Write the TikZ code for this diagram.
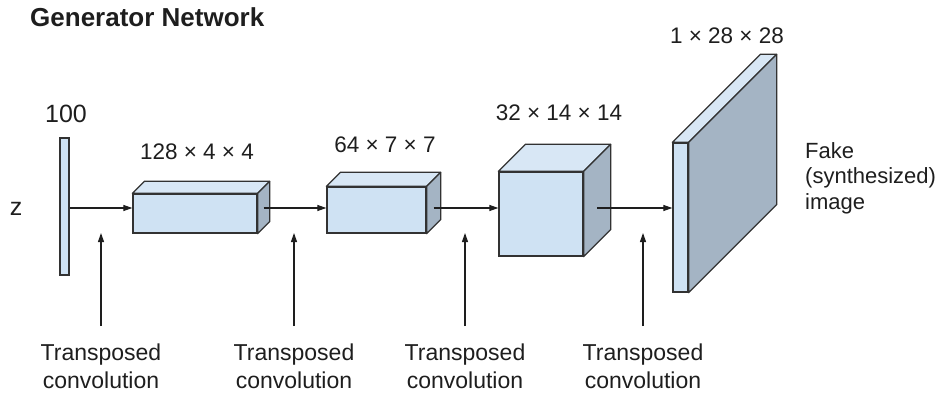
\documentclass[tikz,border=0pt]{standalone}
\usepackage{fontspec}
\setmainfont{Liberation Sans}
\usetikzlibrary{arrows.meta,positioning,calc}
\definecolor{facefront}{RGB}{207,226,243}
\definecolor{facetop}{RGB}{216,231,245}
\definecolor{faceside}{RGB}{164,180,196}
\definecolor{edgegray}{RGB}{50,50,50}
\definecolor{textgray}{RGB}{30,30,30}

\begin{document}
\begin{tikzpicture}[x=1pt, y=-1pt]
\tikzstyle{front} = [rectangle, draw=edgegray, fill=facefront, line width=1.3pt, inner sep=0pt]
\tikzstyle{topface} = [draw=edgegray, fill=facetop, line width=1.3pt, line join=round]
\tikzstyle{sideface} = [draw=edgegray, fill=faceside, line width=1.3pt, line join=round]
\tikzstyle{arrow} = [line width=1.1pt, draw=textgray, -{Triangle[length=9pt, width=6pt]}]
\tikzstyle{dims} = [font=\fontsize{22.5}{27}\selectfont, text=textgray, inner sep=0pt]
\tikzstyle{convlabel} = [font=\fontsize{23}{28}\selectfont, align=center, text=textgray, inner sep=0pt, anchor=north]

\useasboundingbox (0,0) rectangle (948,393);

% title
\node (title) [anchor=base west, inner sep=0pt, text=textgray, font=\bfseries\fontsize{26}{30}\selectfont] at (30,27) {Generator Network};

% input vector z
\node (zbar) [front, minimum width=9pt, minimum height=137pt] at (64.5,206.5) {};
\node (zlabel) [anchor=base, inner sep=0pt, text=textgray, font=\fontsize{25}{30}\selectfont] at (16,215) {z};
\node (zdim) [anchor=base, inner sep=0pt, text=textgray, font=\fontsize{25}{30}\selectfont] at (66,122.5) {100};

% feature maps (front faces)
\node (conva) [front, minimum width=124pt, minimum height=39pt] at (195,213.5) {};
\node (convb) [front, minimum width=99pt, minimum height=46pt] at (376.5,210) {};
\node (convc) [front, minimum width=84pt, minimum height=84pt] at (541,214) {};
\node (fake) [front, minimum width=15pt, minimum height=149pt] at (680.5,217.5) {};

% top and side faces
\foreach \b/\d in {conva/12, convb/14, convc/27, fake/88} {
  \draw[topface] (\b.north west) -- ++(\d pt,\d pt) -- ($(\b.north east)+(\d pt,\d pt)$) -- (\b.north east) -- cycle;
  \draw[sideface] (\b.north east) -- ++(\d pt,\d pt) -- ($(\b.south east)+(\d pt,\d pt)$) -- (\b.south east) -- cycle;
}

% sizes
\node (dima) [dims] at (197,152) {128 × 4 × 4};
\node (dimb) [dims] at (385,145) {64 × 7 × 7};
\node (dimc) [dims] at (559,112.5) {32 × 14 × 14};
\node (dimd) [dims] at (727,35.5) {1 × 28 × 28};

\node (fakelabel) [anchor=north west, align=left, inner sep=0pt, text=textgray, font=\fontsize{22}{25.5}\selectfont] at (805,142) {Fake\\(synthesized)\\image};

% data flow
\coordinate (flow) at (0,208);
\draw[arrow] (zbar.east |- flow) -- (conva.west |- flow);
\draw[arrow] ($(conva.east |- flow)+(6,0)$) -- (convb.west |- flow);
\draw[arrow] ($(convb.east |- flow)+(7,0)$) -- (convc.west |- flow);
\draw[arrow] ($(convc.east |- flow)+(13.5,0)$) -- (fake.west |- flow);

% layers
\foreach \n/\x in {1/101, 2/294, 3/465, 4/643} {
  \node (tconv\n) [convlabel] at (\x,344) {Transposed\\convolution};
  \draw[arrow] ([yshift=18pt]tconv\n.north) -- ++(0pt,93pt);
}
\end{tikzpicture}
\end{document}
